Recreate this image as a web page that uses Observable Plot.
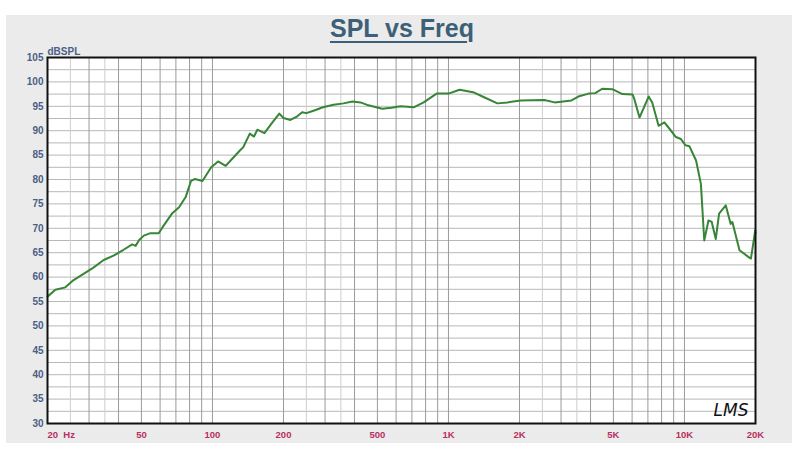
<!DOCTYPE html>
<html>
<head>
<meta charset="utf-8">
<script src="https://cdn.jsdelivr.net/npm/d3@7"></script>
<script src="https://cdn.jsdelivr.net/npm/@observablehq/plot@0.6"></script>
<style>
  html, body { margin: 0; padding: 0; background: #fff; }
  #wrap { position: relative; width: 800px; height: 450px; overflow: hidden; font-family: "Liberation Sans", Arial, sans-serif; }
  #panel { position: absolute; left: 6px; top: 15px; width: 786px; height: 428px; background: #ebebeb; }
  #title { position: absolute; left: 0; width: 804px; top: 14px; text-align: center; font-size: 25px; font-weight: bold; color: #3d6079; text-decoration: underline; text-decoration-thickness: 2px; text-underline-offset: 4px; }
  #chart { position: absolute; left: 0; top: 0; }
</style>
</head>
<body>
<div id="wrap">
  <div id="panel"></div>
  <div id="title">SPL vs Freq</div>
  <div id="chart"></div>
</div>
<script>
// Frequency (Hz) and SPL (dB)
const freq = [20, 21.6, 23.8, 25.8, 31.2, 34.6, 38.1, 42.0, 45.7, 47.3, 48.9, 51.2, 54.6, 59.2, 62.2, 67.6, 72.2, 77.0, 81.1, 84.3, 90.7, 98.8, 105.6, 113.8, 121, 131, 135, 144, 150, 155, 166, 179.5, 192, 200, 214, 228, 240, 250, 268, 294, 326, 359, 392, 424, 458, 524, 573, 627, 712, 785, 891, 1000, 1115, 1272, 1408, 1612, 1780, 2023, 2547, 2820, 3320, 3550, 3925, 4190, 4480, 4950, 5460, 6030, 6130, 6450, 7050, 7300, 7770, 8220, 8640, 9200, 9660, 10100, 10500, 11200, 11740, 12130, 12640, 13050, 13570, 14020, 14960, 15700, 15960, 17110, 18830, 19130, 19960, 20000];
const spl = [56.0, 57.4, 57.9, 59.4, 61.9, 63.5, 64.4, 65.6, 66.7, 66.4, 67.6, 68.5, 69.0, 69.0, 70.6, 73.1, 74.3, 76.4, 79.7, 80.1, 79.7, 82.5, 83.7, 82.8, 84.2, 86.0, 86.6, 89.4, 88.8, 90.2, 89.5, 91.7, 93.5, 92.6, 92.2, 92.9, 93.8, 93.6, 94.1, 94.8, 95.3, 95.6, 96.0, 95.8, 95.2, 94.5, 94.7, 95.0, 94.8, 95.8, 97.6, 97.6, 98.4, 97.9, 96.9, 95.6, 95.8, 96.2, 96.3, 95.8, 96.2, 97.0, 97.6, 97.7, 98.6, 98.5, 97.5, 97.4, 96.5, 92.7, 97.0, 95.8, 91.0, 91.7, 90.4, 88.7, 88.3, 87.0, 86.8, 83.9, 79.1, 67.5, 71.6, 71.3, 67.8, 73.0, 74.7, 70.9, 71.3, 65.5, 64.0, 63.8, 69.6, 68.9];

// Tick labels
const yTicks = [30, 35, 40, 45, 50, 55, 60, 65, 70, 75, 80, 85, 90, 95, 100, 105];
const xTickValues = [50, 100, 200, 500, 1000, 2000, 5000, 10000, 20000];
const xTickLabels = ["50", "100", "200", "500", "1K", "2K", "5K", "10K", "20K"];
const xFirstValue = 20;
const xFirstLabel = "20  Hz";

// Grid values
const decades = [10, 100, 1000, 10000];
const gridMajor = decades.flatMap(d => [1, 2, 3, 4, 5, 6, 7, 8, 9].map(m => m * d)).filter(v => v >= 20 && v <= 20000);
const gridMinor = decades.flatMap(d => [2.5, 3.5].map(m => m * d)).filter(v => v >= 20 && v <= 20000);
const yGrid = d3.range(30, 105.1, 2.5);

const data = freq.map((f, i) => ({f, db: spl[i]}));
const xLabels = xTickValues.map((v, i) => ({v, label: xTickLabels[i]}));

const chart = Plot.plot({
  width: 800,
  height: 450,
  marginLeft: 47,
  marginRight: 45,
  marginTop: 57,
  marginBottom: 27,
  style: {background: "transparent", fontFamily: "Liberation Sans, Arial, sans-serif"},
  x: {type: "log", domain: [20, 20000], axis: null},
  y: {domain: [30, 105], axis: null},
  marks: [
    Plot.rect([0], {x1: 20, x2: 20000, y1: 30, y2: 105, fill: "#ffffff"}),
    Plot.ruleY(yGrid, {stroke: "#b8b8b8", strokeWidth: 1}),
    Plot.ruleX(gridMinor, {stroke: "#cfcfcf", strokeWidth: 1}),
    Plot.ruleX(gridMajor, {stroke: "#9a9a9a", strokeWidth: 1}),
    Plot.line(data, {x: "f", y: "db", stroke: "#378537", strokeWidth: 2, curve: "linear"}),
    Plot.frame({stroke: "#111", strokeWidth: 2}),
    Plot.text(yTicks, {x: 20, y: d => d, dx: -4, textAnchor: "end", text: d => String(d), fill: "#4a5f85", fontSize: 10, fontWeight: "bold"}),
    Plot.text(xLabels, {x: "v", y: 30, dy: 11, text: "label", textAnchor: "middle", fill: "#b8305e", fontSize: 9.5, fontWeight: "bold"}),
    Plot.text([xFirstLabel], {x: xFirstValue, y: 30, dy: 11, text: d => d, textAnchor: "start", fill: "#b8305e", fontSize: 9.5, fontWeight: "bold", style: "white-space: pre"}),
    Plot.text(["dBSPL"], {x: 20, y: 105, dy: -6, textAnchor: "start", text: d => d, fill: "#4a5f85", fontSize: 10, fontWeight: "bold"}),
    Plot.text(["LMS"], {x: 20000, y: 30, dx: -7, dy: -13, textAnchor: "end", text: d => d, fill: "#111", fontSize: 17, fontStyle: "italic", fontFamily: "DejaVu Sans"})
  ]
});
document.getElementById("chart").appendChild(chart);
</script>
</body>
</html>
